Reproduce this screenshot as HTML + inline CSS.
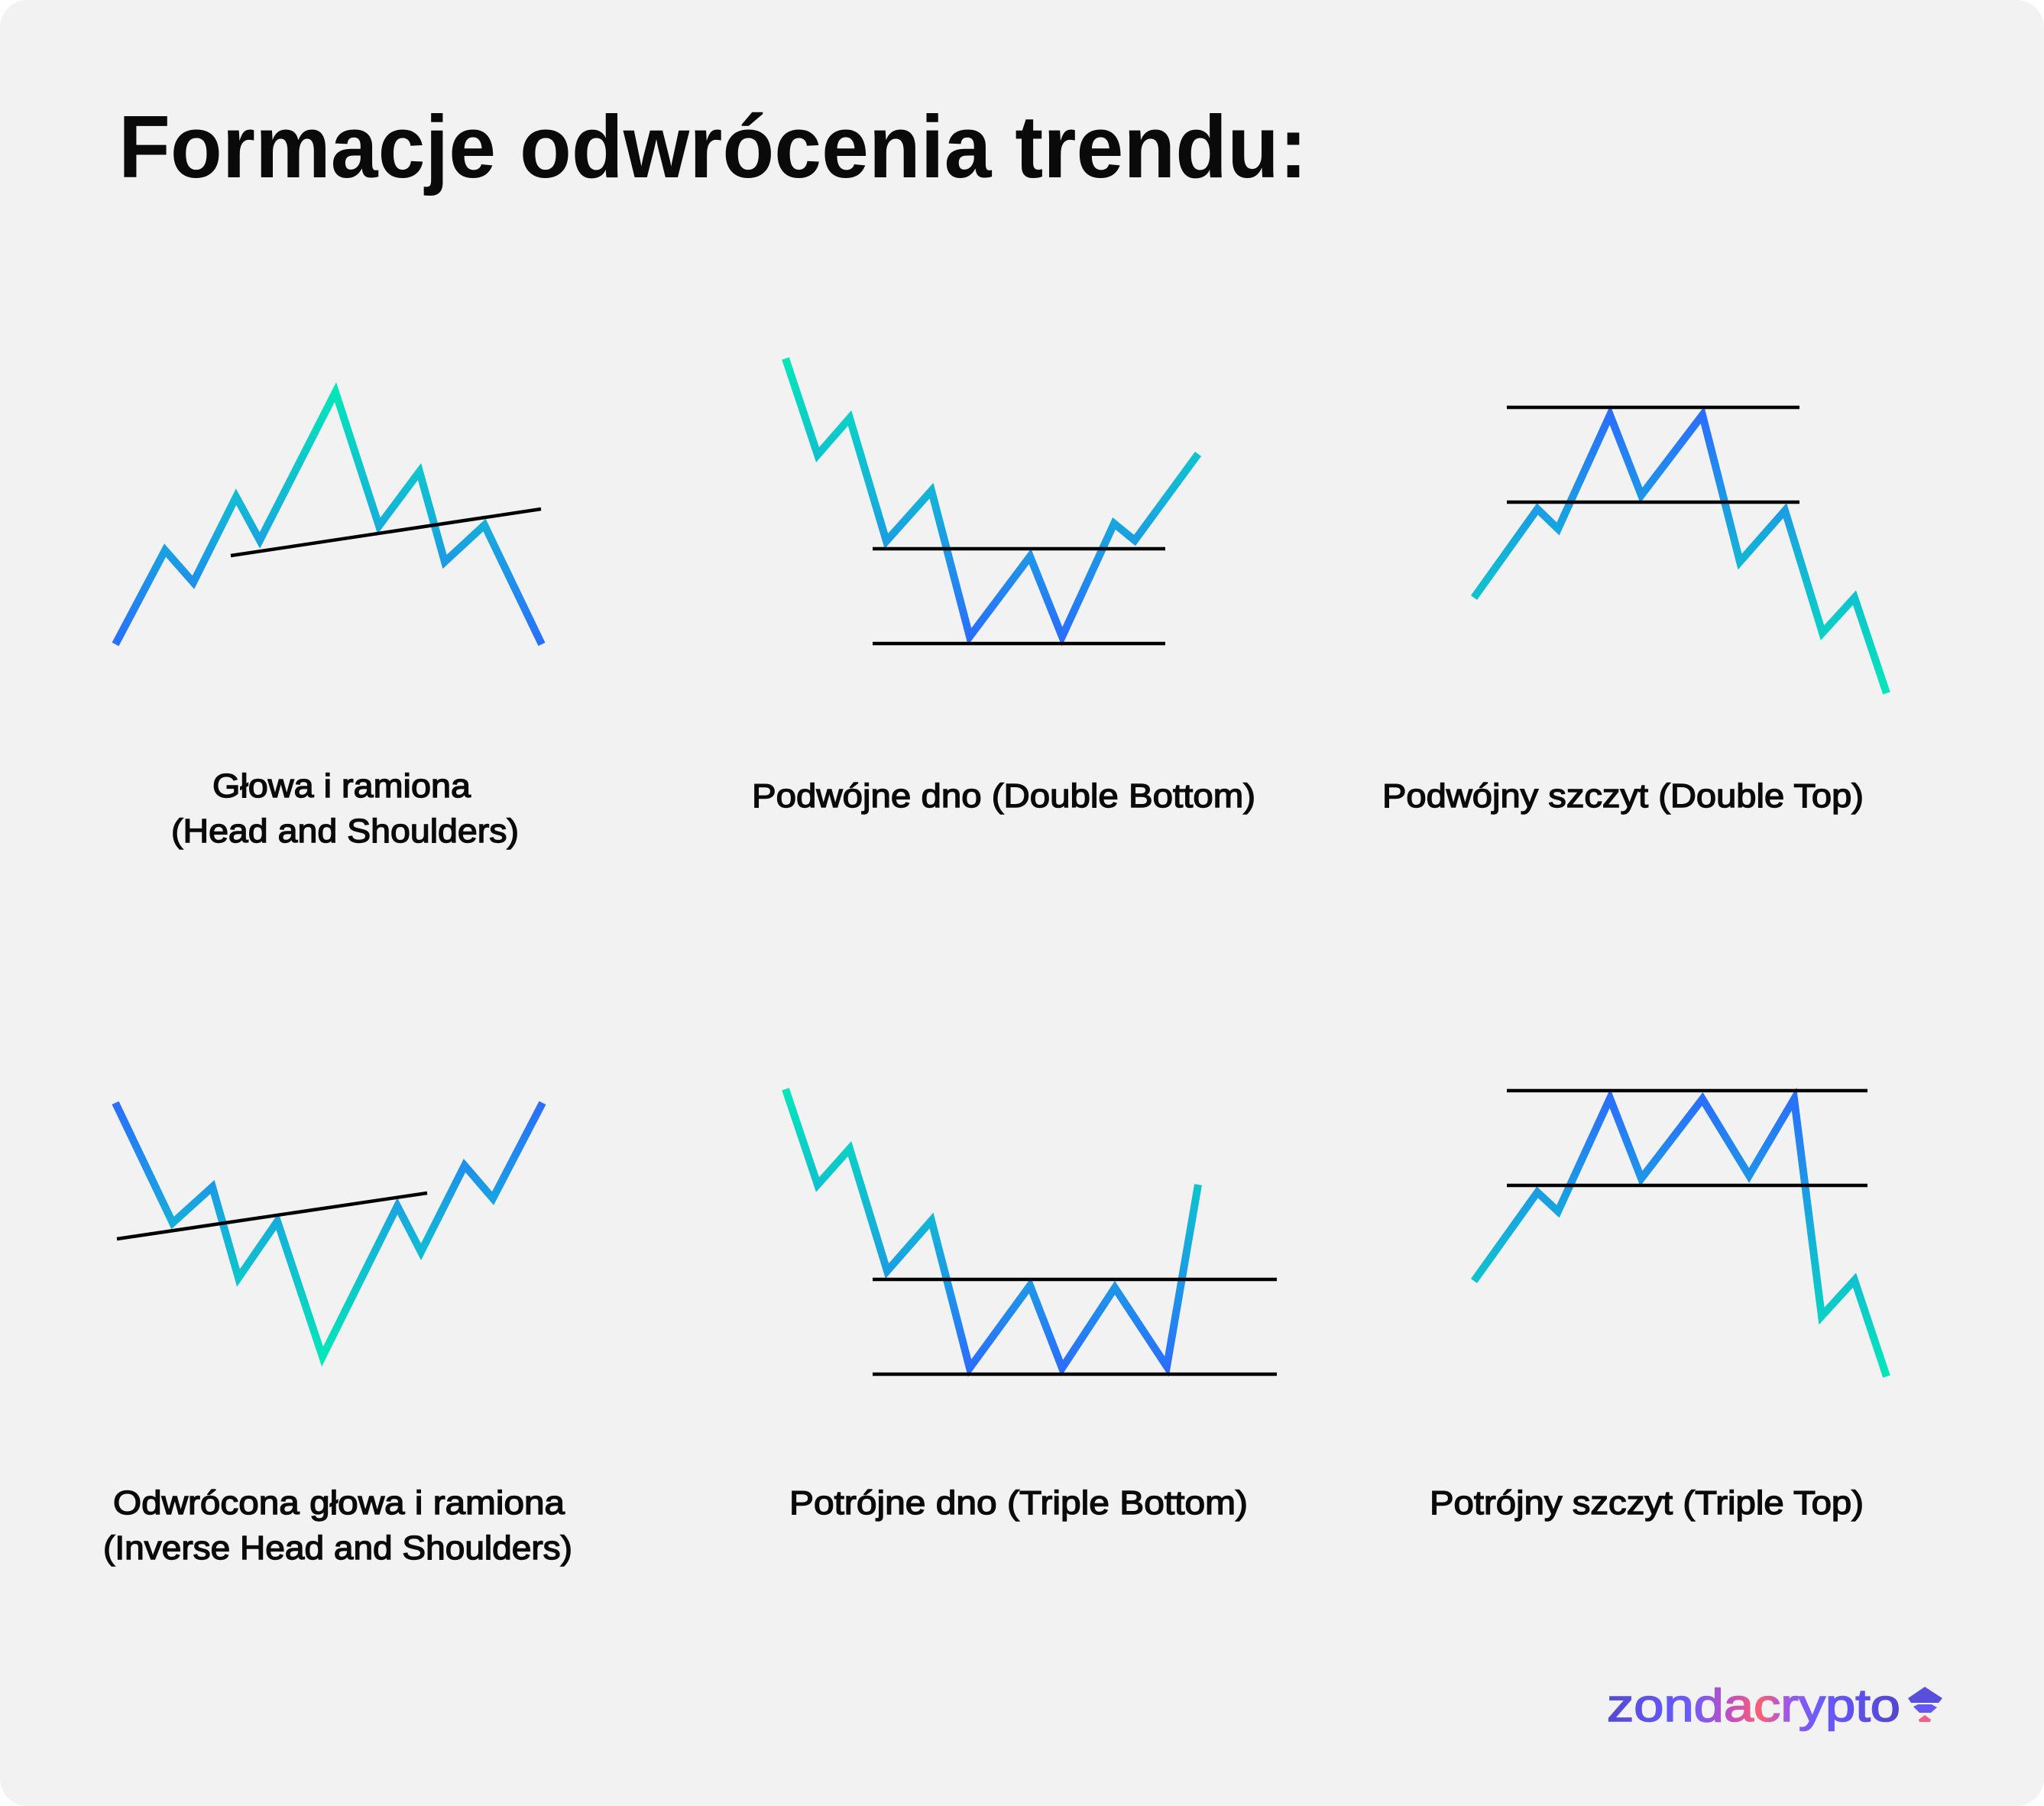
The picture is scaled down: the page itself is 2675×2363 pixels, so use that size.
<!DOCTYPE html>
<html>
<head>
<meta charset="utf-8">
<style>
  html, body { margin: 0; padding: 0; background: #ffffff; }
  body { width: 2675px; height: 2363px; overflow: hidden; }
  svg { display: block; }
  .lbl { font-family: "Liberation Sans", "DejaVu Sans", sans-serif; font-size: 44px; font-weight: normal; fill: #0a0a0a; stroke: #0a0a0a; stroke-width: 1.4px; }
  .ttl { font-family: "Liberation Sans", "DejaVu Sans", sans-serif; font-size: 116px; font-weight: bold; fill: #0a0a0a; }
  .logo { font-family: "Liberation Sans", "DejaVu Sans", sans-serif; font-size: 60px; font-weight: normal; }
</style>
</head>
<body>
<svg width="2675" height="2363" viewBox="0 0 2675 2363" xmlns="http://www.w3.org/2000/svg">
  <defs>
    <linearGradient id="gHS" gradientUnits="userSpaceOnUse" x1="0" y1="505" x2="0" y2="850">
      <stop offset="0" stop-color="#03E8B8"/><stop offset="0.5" stop-color="#14B2D8"/><stop offset="1" stop-color="#2B6CFF"/>
    </linearGradient>
    <linearGradient id="gDB" gradientUnits="userSpaceOnUse" x1="0" y1="465" x2="0" y2="840">
      <stop offset="0" stop-color="#03E8B8"/><stop offset="0.5" stop-color="#14B2D8"/><stop offset="1" stop-color="#2B6CFF"/>
    </linearGradient>
    <linearGradient id="gDT" gradientUnits="userSpaceOnUse" x1="0" y1="536" x2="0" y2="912">
      <stop offset="0" stop-color="#2B6CFF"/><stop offset="0.5" stop-color="#14B2D8"/><stop offset="1" stop-color="#03E8B8"/>
    </linearGradient>
    <linearGradient id="gIHS" gradientUnits="userSpaceOnUse" x1="0" y1="1438" x2="0" y2="1782">
      <stop offset="0" stop-color="#2B6CFF"/><stop offset="0.5" stop-color="#14B2D8"/><stop offset="1" stop-color="#03E8B8"/>
    </linearGradient>
    <linearGradient id="gTB" gradientUnits="userSpaceOnUse" x1="0" y1="1420" x2="0" y2="1796">
      <stop offset="0" stop-color="#03E8B8"/><stop offset="0.5" stop-color="#14B2D8"/><stop offset="1" stop-color="#2B6CFF"/>
    </linearGradient>
    <linearGradient id="gTT" gradientUnits="userSpaceOnUse" x1="0" y1="1430" x2="0" y2="1806">
      <stop offset="0" stop-color="#2B6CFF"/><stop offset="0.5" stop-color="#14B2D8"/><stop offset="1" stop-color="#03E8B8"/>
    </linearGradient>
    <linearGradient id="gLogo" gradientUnits="userSpaceOnUse" x1="2103" y1="0" x2="2487" y2="0">
      <stop offset="0" stop-color="#5548D2"/>
      <stop offset="0.28" stop-color="#6A5CFF"/>
      <stop offset="0.42" stop-color="#C04FC0"/>
      <stop offset="0.52" stop-color="#FF5E74"/>
      <stop offset="0.62" stop-color="#9A58E8"/>
      <stop offset="0.72" stop-color="#6A5CFF"/>
      <stop offset="1" stop-color="#5246D0"/>
    </linearGradient>
  </defs>

  <!-- background card -->
  <rect x="0" y="0" width="2675" height="2363" rx="36" ry="36" fill="#F2F2F2"/>

  <!-- title -->
  <text class="ttl" x="155" y="232" textLength="1556" lengthAdjust="spacingAndGlyphs">Formacje odwrócenia trendu:</text>

  <g fill="none" stroke-linejoin="miter" stroke-miterlimit="10" stroke-linecap="butt">
    <!-- Head and Shoulders -->
    <polyline stroke="url(#gHS)" stroke-width="10" points="151,843 216,720 253,762 309,650 340,707 439,513 496,688 549,617 582,735 634,687 709,843"/>
    <line x1="302" y1="727" x2="708" y2="666" stroke="#000" stroke-width="4.5"/>

    <!-- Double Bottom -->
    <polyline stroke="url(#gDB)" stroke-width="10" points="1028,469 1070,595 1112,547 1160,708 1219,642 1269,833 1348,728 1390,833 1458,685 1485,707 1568,594"/>
    <line x1="1142" y1="718" x2="1525" y2="718" stroke="#000" stroke-width="4.5"/>
    <line x1="1142" y1="842" x2="1525" y2="842" stroke="#000" stroke-width="4.5"/>

    <!-- Double Top -->
    <polyline stroke="url(#gDT)" stroke-width="10" points="1929,782 2012,666 2039,692 2107,543 2148,648 2228,543 2277,735 2336,668 2385,828 2427,782 2469,907"/>
    <line x1="1972" y1="533" x2="2355" y2="533" stroke="#000" stroke-width="4.5"/>
    <line x1="1972" y1="657" x2="2355" y2="657" stroke="#000" stroke-width="4.5"/>

    <!-- Inverse Head and Shoulders -->
    <polyline stroke="url(#gIHS)" stroke-width="10" points="151,1443 226,1600 278,1553 312,1672 363,1598 422,1775 520,1578 551,1638 608,1525 645,1568 710,1443"/>
    <line x1="153" y1="1621" x2="559" y2="1561" stroke="#000" stroke-width="4.5"/>

    <!-- Triple Bottom -->
    <polyline stroke="url(#gTB)" stroke-width="10" points="1028,1425 1070,1550 1112,1503 1161,1663 1219,1597 1269,1790 1348,1682 1390,1790 1459,1685 1527,1788 1568,1550"/>
    <line x1="1142" y1="1674" x2="1671" y2="1674" stroke="#000" stroke-width="4.5"/>
    <line x1="1142" y1="1798" x2="1671" y2="1798" stroke="#000" stroke-width="4.5"/>

    <!-- Triple Top -->
    <polyline stroke="url(#gTT)" stroke-width="10" points="1929,1676 2012,1560 2039,1585 2107,1437 2148,1542 2228,1438 2289,1538 2348,1438 2384,1722 2427,1675 2469,1801"/>
    <line x1="1972" y1="1427" x2="2444" y2="1427" stroke="#000" stroke-width="4.5"/>
    <line x1="1972" y1="1551" x2="2444" y2="1551" stroke="#000" stroke-width="4.5"/>
  </g>

  <!-- labels -->
  <text class="lbl" x="278" y="1043" textLength="338" lengthAdjust="spacingAndGlyphs">Głowa i ramiona</text>
  <text class="lbl" x="224" y="1102" textLength="455" lengthAdjust="spacingAndGlyphs">(Head and Shoulders)</text>
  <text class="lbl" x="984" y="1056" textLength="659" lengthAdjust="spacingAndGlyphs">Podwójne dno (Double Bottom)</text>
  <text class="lbl" x="1809" y="1056" textLength="630" lengthAdjust="spacingAndGlyphs">Podwójny szczyt (Double Top)</text>
  <text class="lbl" x="148" y="1981" textLength="591" lengthAdjust="spacingAndGlyphs">Odwrócona głowa i ramiona</text>
  <text class="lbl" x="135" y="2040" textLength="614" lengthAdjust="spacingAndGlyphs">(Inverse Head and Shoulders)</text>
  <text class="lbl" x="1033" y="1981" textLength="600" lengthAdjust="spacingAndGlyphs">Potrójne dno (Triple Bottom)</text>
  <text class="lbl" x="1871" y="1981" textLength="568" lengthAdjust="spacingAndGlyphs">Potrójny szczyt (Triple Top)</text>

  <!-- logo -->
  <text class="logo" x="2103" y="2252" textLength="384" lengthAdjust="spacingAndGlyphs" fill="url(#gLogo)" stroke="url(#gLogo)" stroke-width="1.6">zondacrypto</text>
  <g>
    <polygon points="2497,2222 2519,2207 2542,2222 2537,2228 2501,2228" fill="#5A4EDD"/>
    <polygon points="2504,2233 2510,2230 2528,2230 2535,2234 2527,2241 2512,2241" fill="#6657F5"/>
    <polygon points="2511,2250 2519,2244 2527,2250 2526,2253 2512,2253" fill="#F2608A"/>
  </g>
</svg>
</body>
</html>
